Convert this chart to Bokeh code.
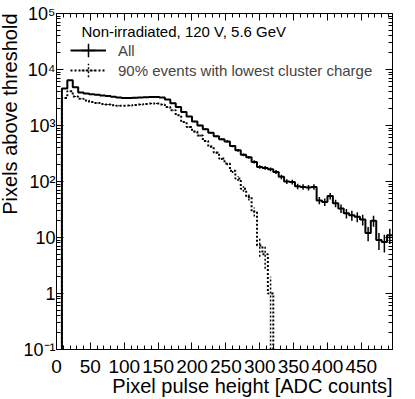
import numpy as np
from bokeh.plotting import figure
from bokeh.models import (Range1d, LinearAxis, LogAxis, FixedTicker, CustomJSTickFormatter,
                          Label, Legend, LegendItem, Title)
from bokeh.embed import file_html
from bokeh.resources import INLINE

# ---- data (bins of 8 ADC counts, 0..496) ----
bin_edges = list(range(0, 497, 8))
all_counts = [0, 4600, 6400, 4800, 3900, 3720, 3600, 3530, 3450, 3350,
              3250, 3160, 3100, 3100, 3130, 3150, 3200, 3230, 3240, 3150,
              2900, 2500, 2130, 1750, 1450, 1180, 1000, 860, 740, 640,
              570, 520, 430, 360, 300, 270, 224, 182, 175, 165,
              148, 121, 100, 98, 82, 80, 78, 80, 46, 43,
              55, 41, 33, 27, 25, 23.5, 21, 12, 20, 9,
              8.3, 11]
low90_counts = [0, 3100, 4100, 3300, 3000, 2800, 2630, 2530, 2430, 2380,
                2300, 2250, 2250, 2270, 2320, 2370, 2430, 2470, 2460, 2380,
                2130, 1870, 1520, 1150, 940, 780, 660, 530, 420, 330,
                257, 210, 155, 113, 74, 53, 29, 7.2, 5, 1,
                0, 0, 0, 0, 0, 0, 0, 0, 0, 0,
                0, 0, 0, 0, 0, 0, 0, 0, 0, 0,
                0, 0]
series_labels = ["All", "90% events with lowest cluster charge"]
header_text = "Non-irradiated, 120 V, 5.6 GeV"
x_title = "Pixel pulse height [ADC counts]"
y_title = "Pixels above threshold"
x_ticks = [0, 50, 100, 150, 200, 250, 300, 350, 400, 450]
x_minor_ticks = list(range(0, 500, 10))
y_ticks = [0.1, 1, 10, 100, 1000, 10000, 100000]
y_tick_labels = ["10\u207b\u00b9", "1", "10", "10\u00b2", "10\u00b3", "10\u2074", "10\u2075"]
y_minor_ticks = [m * 10.0 ** e for e in range(-1, 5) for m in range(2, 10)]

FONT = "Liberation Sans"
FLOOR = 1e-3
X0, X1 = 0, 496
Y0, Y1 = 0.1, 1e5
FW, FH = 336, 336


def px_x(dx):
    """data x for a pixel offset from the left frame edge"""
    return X0 + dx * (X1 - X0) / FW


def px_y(dy):
    """data y for a pixel offset measured downward from the top frame edge (log axis)"""
    return Y1 * 10 ** (-dy * np.log10(Y1 / Y0) / FH)


p = figure(frame_width=FW, frame_height=FH, output_backend="svg", toolbar_location=None,
           y_axis_type="log", x_range=Range1d(X0, X1), y_range=Range1d(Y0, Y1),
           min_border_left=58, min_border_right=21, min_border_top=13, min_border_bottom=50,
           margin=(0, -4, -4, -4))
p.background_fill_color = "white"
p.border_fill_color = "white"
p.outline_line_color = "black"
p.grid.visible = False


def step_data(counts):
    ys = [c if c > 0 else FLOOR for c in counts]
    return bin_edges, ys + [ys[-1]]


def err_data(counts):
    cx, yc, y0, y1 = [], [], [], []
    for i, c in enumerate(counts):
        if c > 0:
            cx.append((bin_edges[i] + bin_edges[i + 1]) / 2)
            yc.append(c)
            y0.append(max(c - np.sqrt(c), FLOOR))
            y1.append(c + np.sqrt(c))
    return cx, yc, y0, y1


styles = [dict(line_dash="solid"), dict(line_dash="2 2")]
items = []
for counts, lab, st in zip([all_counts, low90_counts], series_labels, styles):
    xs, ys = step_data(counts)
    r = p.step(xs, ys, mode="after", line_color="black", line_width=2, **st)
    cx, yc, y0, y1 = err_data(counts)
    p.segment(cx, y0, cx, y1, line_color="black", line_width=1.5, **st)
    m = p.scatter(cx, yc, marker="cross", size=0,
                  line_color="black", line_width=1.5, **st)
    items.append(LegendItem(label=lab, renderers=[r, m]))


def style_axis(ax, labels=True, size="19px"):
    ax.axis_line_color = "black"
    ax.axis_line_width = 1
    ax.major_tick_line_color = "black"
    ax.minor_tick_line_color = "black"
    ax.major_tick_out = 0
    ax.minor_tick_out = 0
    ax.major_tick_in = 7
    ax.minor_tick_in = 4
    ax.major_label_text_font = FONT
    ax.major_label_text_font_size = size
    ax.major_label_text_color = "black"
    if not labels:
        ax.major_label_text_color = None
        ax.major_label_text_font_size = "0px"
        ax.major_label_standoff = 0


yfmt = CustomJSTickFormatter(args=dict(tvals=y_ticks, tlabels=y_tick_labels), code="""
let best = 0, d = 1e9;
for (let i = 0; i < tvals.length; i++) {
  const e = Math.abs(Math.log10(tick) - Math.log10(tvals[i]));
  if (e < d) { d = e; best = i; }
}
return tlabels[best];
""")

p.xaxis.ticker = FixedTicker(ticks=x_ticks, minor_ticks=x_minor_ticks)
p.yaxis.ticker = FixedTicker(ticks=y_ticks, minor_ticks=y_minor_ticks)
p.yaxis.formatter = yfmt
for ax in p.xaxis:
    style_axis(ax)
for ax in p.yaxis:
    style_axis(ax, size="18px")

top = LinearAxis(ticker=FixedTicker(ticks=x_ticks, minor_ticks=x_minor_ticks))
style_axis(top, labels=False)
p.add_layout(top, "above")
right = LogAxis(ticker=FixedTicker(ticks=y_ticks, minor_ticks=y_minor_ticks))
style_axis(right, labels=False)
p.add_layout(right, "right")

# axis titles, aligned to the end of each axis (ROOT style)
xt = Title(text=x_title, align="right", text_font=FONT, text_font_size="20px",
           text_font_style="normal", text_color="black", standoff=0, offset=0)
yt = Title(text=y_title, align="right", text_font=FONT, text_font_size="20px",
           text_font_style="normal", text_color="black", standoff=0, offset=0)
try:
    xt.standoff = -6
    x_std = 10
except ValueError:
    x_std = 4
for ax in p.xaxis:
    ax.major_label_standoff = x_std
for ax in p.yaxis:
    ax.major_label_standoff = 1
p.add_layout(xt, "below")
p.add_layout(yt, "left")

# legend header and entries
p.add_layout(Label(x=px_x(25), y=px_y(18), text=header_text,
                   text_align="left", text_baseline="middle", text_font=FONT,
                   text_font_size="15px", text_color="black"))
GH = 34
for i, it in enumerate(items):
    row_center = 37 + 20 * i  # px below frame top
    lg = Legend(items=[it], location=(14, FH - row_center - GH // 2),
                glyph_width=36, glyph_height=GH, spacing=0, padding=0, margin=0,
                label_standoff=12, label_text_font=FONT, label_text_font_size="15px",
                border_line_color=None, background_fill_alpha=0)
    p.add_layout(lg)

open("out.html", "w").write(file_html(p, INLINE))
